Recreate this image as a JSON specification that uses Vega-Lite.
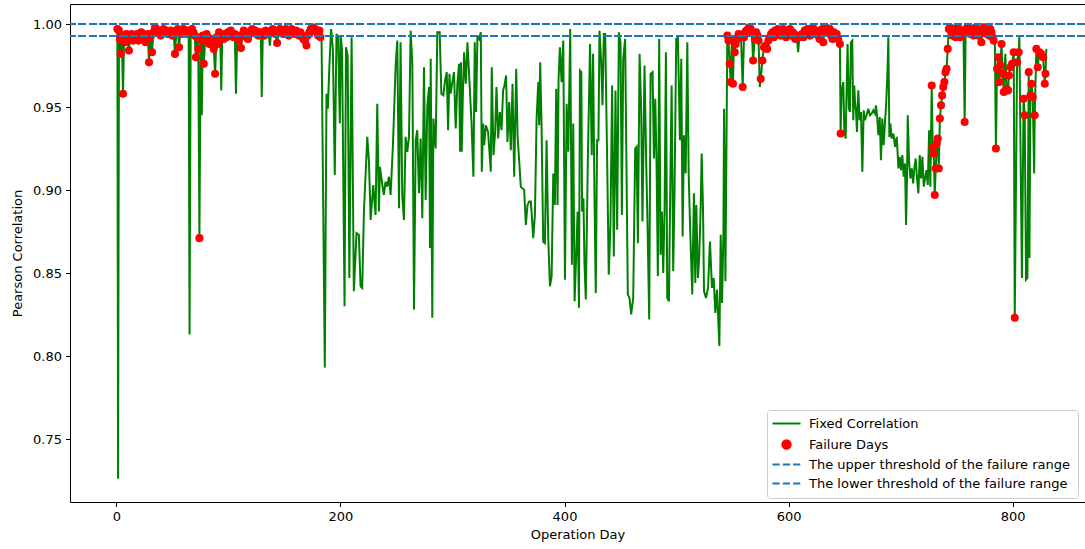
{
"$schema": "https://vega.github.io/schema/vega-lite/v6.json",
"width": 1015, "height": 498,
"autosize": {"type": "none"},
"padding": {"left": 70, "top": 4, "right": 0, "bottom": 47},
"background": "white",
"config": {
 "font": "DejaVu Sans",
 "view": {"stroke": null},
 "axis": {"labelFontSize": 13, "titleFontSize": 13, "labelColor": "#000", "titleColor": "#000", "titleFontWeight": "normal", "domainColor": "#000", "tickColor": "#000", "tickSize": 4.5, "labelPadding": 4, "grid": false, "domainWidth": 1, "tickWidth": 1}
},
"data": {"values": [
{"d":1,"v":0.997,"f":1},{"d":1.6,"v":0.726},{"d":2.4,"v":0.996,"f":1},{"d":3.2,"v":0.991,"f":1},{"d":3.9,"v":0.982,"f":1},{"d":5,"v":0.990,"f":1},{"d":6,"v":0.958,"f":1},{"d":7,"v":0.993,"f":1},{"d":8,"v":0.989,"f":1},{"d":9,"v":0.994,"f":1},{"d":10,"v":0.991,"f":1},{"d":11.3,"v":0.984,"f":1},{"d":12.4,"v":0.992,"f":1},{"d":13.7,"v":0.994,"f":1},{"d":15,"v":0.990,"f":1},{"d":16.2,"v":0.993,"f":1},{"d":17.5,"v":0.991,"f":1},{"d":18.6,"v":0.994,"f":1},{"d":19.7,"v":0.990,"f":1},{"d":21,"v":0.993,"f":1},{"d":22.2,"v":0.995,"f":1},{"d":23.5,"v":0.992,"f":1},{"d":24.8,"v":0.994,"f":1},{"d":26,"v":0.989,"f":1},{"d":27.1,"v":0.991,"f":1},{"d":28.2,"v":0.994,"f":1},{"d":29.2,"v":0.977,"f":1},{"d":30.5,"v":0.992,"f":1},{"d":31.9,"v":0.983,"f":1},{"d":33.2,"v":0.995,"f":1},{"d":34.6,"v":0.998,"f":1},{"d":35.8,"v":0.997,"f":1},{"d":37,"v":0.996,"f":1},{"d":38.4,"v":0.995,"f":1},{"d":39.6,"v":0.993,"f":1},{"d":40.9,"v":0.996,"f":1},{"d":42.1,"v":0.997,"f":1},{"d":43.4,"v":0.995,"f":1},{"d":44.7,"v":0.996,"f":1},{"d":46,"v":0.994,"f":1},{"d":47.3,"v":0.994,"f":1},{"d":48.6,"v":0.996,"f":1},{"d":50,"v":0.993,"f":1},{"d":51.2,"v":0.995,"f":1},{"d":52.4,"v":0.982,"f":1},{"d":53.6,"v":0.995,"f":1},{"d":54.8,"v":0.997,"f":1},{"d":56,"v":0.986,"f":1},{"d":57.3,"v":0.996,"f":1},{"d":58.6,"v":0.994,"f":1},{"d":59.8,"v":0.997,"f":1},{"d":61.1,"v":0.996,"f":1},{"d":62.4,"v":0.994,"f":1},{"d":63.7,"v":0.996,"f":1},{"d":64.6,"v":0.995,"f":1},{"d":65.4,"v":0.813},{"d":66.4,"v":0.995,"f":1},{"d":67.6,"v":0.997,"f":1},{"d":68.8,"v":0.995,"f":1},{"d":70,"v":0.993,"f":1},{"d":71,"v":0.980,"f":1},{"d":72.1,"v":0.992,"f":1},{"d":73.2,"v":0.985,"f":1},{"d":74.2,"v":0.871,"f":1},{"d":75.3,"v":0.990,"f":1},{"d":76.3,"v":0.945},{"d":77.2,"v":0.993,"f":1},{"d":78.1,"v":0.976,"f":1},{"d":79.3,"v":0.990,"f":1},{"d":80.6,"v":0.994,"f":1},{"d":81.9,"v":0.992,"f":1},{"d":83.1,"v":0.988,"f":1},{"d":84.4,"v":0.991,"f":1},{"d":85.7,"v":0.989,"f":1},{"d":87,"v":0.985,"f":1},{"d":88.2,"v":0.970,"f":1},{"d":89.4,"v":0.992,"f":1},{"d":90.6,"v":0.988,"f":1},{"d":91.7,"v":0.995,"f":1},{"d":92.8,"v":0.993,"f":1},{"d":93.7,"v":0.960},{"d":94.6,"v":0.993,"f":1},
{"d":95.8,"v":0.991,"f":1},{"d":97,"v":0.994,"f":1},{"d":98.3,"v":0.992,"f":1},{"d":99.6,"v":0.995,"f":1},{"d":100.9,"v":0.993,"f":1},{"d":102.2,"v":0.996,"f":1},{"d":103.5,"v":0.994,"f":1},{"d":104.8,"v":0.992,"f":1},{"d":105.8,"v":0.994,"f":1},{"d":106.8,"v":0.958},{"d":107.9,"v":0.992,"f":1},{"d":109.2,"v":0.990,"f":1},{"d":110.3,"v":0.993,"f":1},{"d":111.3,"v":0.9855,"f":1},{"d":112.5,"v":0.993,"f":1},{"d":113.7,"v":0.996,"f":1},{"d":115,"v":0.994,"f":1},{"d":116.3,"v":0.992,"f":1},{"d":117.6,"v":0.991,"f":1},{"d":118.9,"v":0.994,"f":1},{"d":120.2,"v":0.996,"f":1},{"d":121.5,"v":0.997,"f":1},{"d":122.8,"v":0.995,"f":1},{"d":124.1,"v":0.996,"f":1},{"d":125.4,"v":0.994,"f":1},{"d":126.7,"v":0.993,"f":1},{"d":128,"v":0.995,"f":1},{"d":129,"v":0.994,"f":1},{"d":129.8,"v":0.956},{"d":130.8,"v":0.995,"f":1},{"d":132.1,"v":0.993,"f":1},{"d":133.4,"v":0.996,"f":1},{"d":134.7,"v":0.994,"f":1},{"d":136,"v":0.995,"f":1},{"d":137,"v":0.987},{"d":138.2,"v":0.995,"f":1},{"d":139.5,"v":0.997,"f":1},{"d":140.8,"v":0.996,"f":1},{"d":142.1,"v":0.994,"f":1},{"d":143.5,"v":0.9885,"f":1},{"d":144.8,"v":0.995,"f":1},{"d":146.1,"v":0.997,"f":1},{"d":147.4,"v":0.996,"f":1},{"d":148.7,"v":0.994,"f":1},{"d":150,"v":0.995,"f":1},{"d":151.3,"v":0.997,"f":1},{"d":152.6,"v":0.996,"f":1},{"d":153.9,"v":0.993,"f":1},{"d":155.2,"v":0.995,"f":1},{"d":156.5,"v":0.997,"f":1},{"d":157.8,"v":0.996,"f":1},{"d":159.1,"v":0.994,"f":1},{"d":160.4,"v":0.996,"f":1},{"d":161.7,"v":0.994,"f":1},{"d":163,"v":0.993,"f":1},{"d":164.3,"v":0.995,"f":1},{"d":165.6,"v":0.993,"f":1},{"d":166.9,"v":0.991,"f":1},{"d":168.3,"v":0.990,"f":1},{"d":169.7,"v":0.987,"f":1},{"d":171,"v":0.993,"f":1},{"d":172.3,"v":0.995,"f":1},{"d":173.6,"v":0.997,"f":1},{"d":174.9,"v":0.998,"f":1},{"d":176.2,"v":0.996,"f":1},{"d":177.5,"v":0.997,"f":1},{"d":178.8,"v":0.995,"f":1},{"d":180.1,"v":0.993,"f":1},{"d":181.2,"v":0.996,"f":1},{"d":182.2,"v":0.992,"f":1},{"d":183.1,"v":0.997},{"d":186.1,"v":0.793},{"d":187.6,"v":0.958},{"d":188.8,"v":0.949},{"d":190.2,"v":0.975},{"d":191.7,"v":0.997},{"d":193.3,"v":0.985},{"d":195,"v":0.909},{"d":196.5,"v":0.994},{"d":198,"v":0.992},{"d":199.5,"v":0.940},
{"d":200.3,"v":0.993},{"d":201.5,"v":0.984},{"d":203.7,"v":0.830},{"d":205,"v":0.986},{"d":206.5,"v":0.981},{"d":208,"v":0.847},{"d":210,"v":0.992},{"d":212,"v":0.839},{"d":214.4,"v":0.874},{"d":216.5,"v":0.873},{"d":218,"v":0.842},{"d":219.5,"v":0.841},{"d":221,"v":0.887},{"d":224,"v":0.932},{"d":225.5,"v":0.917},{"d":227,"v":0.882},{"d":229.3,"v":0.903},{"d":231.4,"v":0.885},{"d":232.9,"v":0.952},{"d":234.4,"v":0.887},{"d":235.3,"v":0.914},{"d":237.4,"v":0.903},{"d":238.8,"v":0.897},{"d":240.3,"v":0.905},{"d":241.8,"v":0.902},{"d":243.3,"v":0.908},{"d":244.8,"v":0.897},{"d":246.9,"v":0.927},{"d":249.3,"v":0.975},{"d":250.8,"v":0.990},{"d":252.3,"v":0.889},{"d":253.7,"v":0.989},{"d":255.2,"v":0.897},{"d":256.7,"v":0.882},{"d":258.2,"v":0.932},{"d":259.7,"v":0.923},{"d":261.2,"v":0.932},{"d":262.7,"v":0.996},{"d":264.2,"v":0.976},{"d":265.7,"v":0.828},{"d":267.2,"v":0.930},{"d":268.6,"v":0.936},{"d":270.1,"v":0.898},{"d":271.6,"v":0.931},{"d":273.1,"v":0.883},{"d":274.6,"v":0.974},{"d":276.1,"v":0.894},{"d":277.6,"v":0.951},{"d":279.1,"v":0.962},{"d":280,"v":0.865},{"d":280.6,"v":0.979},{"d":282,"v":0.823},{"d":283,"v":0.943},{"d":285,"v":0.925},{"d":286.5,"v":0.995},{"d":288.6,"v":0.995},{"d":290.1,"v":0.958},{"d":291.9,"v":0.957},{"d":293.4,"v":0.966},{"d":294.9,"v":0.971},{"d":296.1,"v":0.936},{"d":297.3,"v":0.970},{"d":298.4,"v":0.958},{"d":299.9,"v":0.965},{"d":301.4,"v":0.971},{"d":302.9,"v":0.937},{"d":304.4,"v":0.964},{"d":305.9,"v":0.976},{"d":306.8,"v":0.923},
{"d":307.6,"v":0.977},{"d":308.3,"v":0.923},{"d":309.2,"v":0.955},{"d":310.4,"v":0.983},{"d":311.9,"v":0.964},{"d":313.4,"v":0.989},{"d":314.9,"v":0.969},{"d":317,"v":0.941},{"d":318.7,"v":0.908},{"d":319.9,"v":0.989},{"d":321.1,"v":0.947},{"d":322.3,"v":0.993},{"d":323.8,"v":0.991},{"d":325.3,"v":0.995},{"d":326.2,"v":0.911},{"d":327.4,"v":0.940},{"d":328.3,"v":0.927},{"d":329.8,"v":0.939},{"d":331.8,"v":0.935},{"d":334.2,"v":0.911},{"d":335.1,"v":0.974},{"d":336.6,"v":0.921},{"d":338.1,"v":0.935},{"d":339.3,"v":0.962},{"d":340.8,"v":0.931},{"d":342.3,"v":0.947},{"d":343.8,"v":0.936},{"d":345.2,"v":0.960},{"d":346.4,"v":0.963},{"d":347.9,"v":0.969},{"d":349.1,"v":0.929},{"d":350.6,"v":0.953},{"d":352.1,"v":0.924},{"d":353.6,"v":0.964},{"d":355.1,"v":0.908},{"d":356.9,"v":0.973},{"d":358.1,"v":0.933},{"d":359.6,"v":0.917},{"d":361,"v":0.902},{"d":362.5,"v":0.901},{"d":364,"v":0.900},{"d":365.5,"v":0.879},{"d":367,"v":0.891},{"d":368.5,"v":0.893},{"d":370,"v":0.893},{"d":372.1,"v":0.871},{"d":373.6,"v":0.885},{"d":375.1,"v":0.943},{"d":376.6,"v":0.965},{"d":377.4,"v":0.939},{"d":378.3,"v":0.977},{"d":379.5,"v":0.939},{"d":381,"v":0.869},{"d":382.5,"v":0.868},{"d":384,"v":0.930},{"d":385.5,"v":0.871},{"d":387,"v":0.842},{"d":388.5,"v":0.848},{"d":390,"v":0.910},{"d":391.4,"v":0.891},{"d":392.6,"v":0.961},{"d":393.8,"v":0.891},{"d":394.7,"v":0.967},{"d":395.9,"v":0.986},{"d":397.4,"v":0.965},{"d":398.9,"v":0.990},{"d":400.4,"v":0.846},{"d":401.9,"v":0.952},{"d":403.4,"v":0.923},{"d":405.1,"v":0.997},{"d":406.6,"v":0.855},{"d":407.8,"v":0.940},{"d":409,"v":0.833},{"d":410.2,"v":0.856},{"d":411.7,"v":0.887},{"d":412.9,"v":0.829},{"d":413.8,"v":0.972},
{"d":415,"v":0.971},{"d":415.7,"v":0.887},{"d":416.9,"v":0.895},{"d":417.8,"v":0.857},{"d":419,"v":0.834},{"d":420.8,"v":0.917},{"d":422.8,"v":0.988},{"d":424.3,"v":0.921},{"d":425.5,"v":0.982},{"d":426.7,"v":0.900},{"d":427.9,"v":0.838},{"d":429.1,"v":0.930},{"d":430.3,"v":0.930},{"d":431.2,"v":0.996},{"d":432.7,"v":0.978},{"d":433.9,"v":0.951},{"d":435.1,"v":0.994},{"d":436.3,"v":0.994},{"d":438,"v":0.921},{"d":439.5,"v":0.849},{"d":441,"v":0.879},{"d":442.5,"v":0.963},{"d":444,"v":0.860},{"d":445.5,"v":0.960},{"d":447,"v":0.876},{"d":448.5,"v":0.995},{"d":450,"v":0.989},{"d":451.2,"v":0.885},{"d":452.4,"v":0.979},{"d":454.1,"v":0.991},{"d":456.5,"v":0.837},{"d":458,"v":0.835},{"d":459.5,"v":0.825},{"d":461.3,"v":0.835},{"d":463.1,"v":0.925},{"d":464.3,"v":0.926},{"d":465.5,"v":0.868},{"d":467,"v":0.982},{"d":468.4,"v":0.949},{"d":469.6,"v":0.881},{"d":471.4,"v":0.975},{"d":472.9,"v":0.917},{"d":474.1,"v":0.879},{"d":475.6,"v":0.822},{"d":476.8,"v":0.970},{"d":478.6,"v":0.971},{"d":479.8,"v":0.919},{"d":481,"v":0.955},{"d":482.2,"v":0.914},{"d":483.3,"v":0.848},{"d":484.5,"v":0.991},{"d":485.7,"v":0.861},{"d":486.9,"v":0.887},{"d":488.1,"v":0.850},{"d":489.3,"v":0.888},{"d":490.5,"v":0.983},{"d":491.7,"v":0.835},{"d":493.2,"v":0.833},{"d":494.4,"v":0.902},{"d":495.6,"v":0.963},{"d":497,"v":0.851},{"d":498.2,"v":0.899},{"d":499.7,"v":0.991},{"d":501.2,"v":0.992},{"d":503,"v":0.930},{"d":504.2,"v":0.979},{"d":505.4,"v":0.872},{"d":506.6,"v":0.933},{"d":508.1,"v":0.910},{"d":509.6,"v":0.989},{"d":510.8,"v":0.910},{"d":512.2,"v":0.875},{"d":514,"v":0.837},{"d":515.5,"v":0.898},{"d":516.7,"v":0.844},{"d":517.6,"v":0.891},{"d":519.1,"v":0.847},{"d":520.3,"v":0.861},{"d":521.5,"v":0.889},
{"d":522.4,"v":0.922},{"d":523.6,"v":0.889},{"d":524.5,"v":0.839},{"d":526.3,"v":0.835},{"d":528.1,"v":0.841},{"d":529.8,"v":0.869},{"d":531.6,"v":0.841},{"d":533.1,"v":0.847},{"d":534.6,"v":0.826},{"d":536.1,"v":0.840},{"d":538.2,"v":0.806},{"d":539.4,"v":0.873},{"d":540.6,"v":0.832},{"d":541.8,"v":0.873},{"d":542.4,"v":0.949},{"d":543.6,"v":0.845},{"d":545.3,"v":0.993,"f":1},{"d":546.3,"v":0.990,"f":1},{"d":547.4,"v":0.976,"f":1},{"d":548.3,"v":0.965,"f":1},{"d":549.3,"v":0.990,"f":1},{"d":550.4,"v":0.964,"f":1},{"d":551.2,"v":0.990,"f":1},{"d":551.9,"v":0.983,"f":1},{"d":552.8,"v":0.988,"f":1},{"d":554.3,"v":0.991,"f":1},{"d":555.3,"v":0.994,"f":1},{"d":556.4,"v":0.992,"f":1},{"d":557.5,"v":0.993,"f":1},{"d":559,"v":0.962,"f":1},{"d":560.2,"v":0.992,"f":1},{"d":561.2,"v":0.995,"f":1},{"d":562.3,"v":0.996,"f":1},{"d":563.8,"v":0.997,"f":1},{"d":565,"v":0.998,"f":1},{"d":566.2,"v":0.997,"f":1},{"d":567.2,"v":0.995,"f":1},{"d":568.3,"v":0.978,"f":1},{"d":569.8,"v":0.991,"f":1},{"d":571,"v":0.995,"f":1},{"d":572.2,"v":0.993,"f":1},{"d":573.2,"v":0.990,"f":1},{"d":574.3,"v":0.962},{"d":575.1,"v":0.967,"f":1},{"d":576.6,"v":0.978,"f":1},{"d":578,"v":0.986,"f":1},{"d":579.5,"v":0.987,"f":1},{"d":580.8,"v":0.985,"f":1},{"d":582,"v":0.990,"f":1},{"d":583.2,"v":0.992,"f":1},{"d":584.4,"v":0.994,"f":1},{"d":585.6,"v":0.995,"f":1},{"d":586.8,"v":0.992,"f":1},{"d":588,"v":0.996,"f":1},{"d":589.2,"v":0.994,"f":1},{"d":590.4,"v":0.997,"f":1},{"d":591.6,"v":0.995,"f":1},{"d":592.8,"v":0.993,"f":1},{"d":594,"v":0.995,"f":1},{"d":595.2,"v":0.997,"f":1},{"d":596.4,"v":0.994,"f":1},{"d":597.6,"v":0.992,"f":1},{"d":598.8,"v":0.996,"f":1},{"d":600,"v":0.995,"f":1},{"d":601.2,"v":0.997,"f":1},{"d":602.4,"v":0.993,"f":1},{"d":603.6,"v":0.995,"f":1},{"d":604.8,"v":0.994,"f":1},{"d":606,"v":0.991,"f":1},{"d":607.2,"v":0.993,"f":1},{"d":608.5,"v":0.983},{"d":609.6,"v":0.992,"f":1},{"d":610.8,"v":0.993,"f":1},{"d":612,"v":0.994,"f":1},{"d":613.2,"v":0.992,"f":1},{"d":614.4,"v":0.996,"f":1},{"d":615.6,"v":0.995,"f":1},{"d":616.8,"v":0.997,"f":1},{"d":618,"v":0.995,"f":1},{"d":619.2,"v":0.993,"f":1},{"d":620.4,"v":0.997,"f":1},{"d":621.6,"v":0.998,"f":1},{"d":622.8,"v":0.996,"f":1},{"d":624,"v":0.994,"f":1},{"d":625.2,"v":0.996,"f":1},{"d":626.4,"v":0.993,"f":1},{"d":627.6,"v":0.991,"f":1},{"d":628.8,"v":0.994,"f":1},{"d":630,"v":0.997,"f":1},{"d":630.9,"v":0.989,"f":1},{"d":632,"v":0.996,"f":1},{"d":633.2,"v":0.998,"f":1},{"d":634.4,"v":0.997,"f":1},{"d":635.6,"v":0.995,"f":1},{"d":636.8,"v":0.997,"f":1},{"d":638,"v":0.993,"f":1},{"d":639.2,"v":0.991,"f":1},{"d":640.4,"v":0.995,"f":1},{"d":641.6,"v":0.992,"f":1},{"d":642.8,"v":0.994,"f":1},{"d":644.3,"v":0.991,"f":1},{"d":645.8,"v":0.988,"f":1},{"d":646.4,"v":0.934,"f":1},
{"d":647.3,"v":0.960},{"d":648.8,"v":0.965},{"d":649.7,"v":0.936},{"d":650.9,"v":0.931},{"d":652.6,"v":0.988},{"d":653.8,"v":0.949},{"d":654.7,"v":0.947},{"d":655.6,"v":0.989},{"d":656.8,"v":0.990},{"d":657.7,"v":0.942},{"d":658.6,"v":0.963},{"d":659.2,"v":0.954},{"d":660.1,"v":0.948},{"d":661,"v":0.935},{"d":662.2,"v":0.960},{"d":663.4,"v":0.942},{"d":664.6,"v":0.947},{"d":665.8,"v":0.911},{"d":667,"v":0.948},{"d":668.1,"v":0.942},{"d":669.6,"v":0.945},{"d":671.1,"v":0.949},{"d":672.6,"v":0.945},{"d":674.1,"v":0.946},{"d":675.6,"v":0.948},{"d":677.1,"v":0.946},{"d":678,"v":0.951},{"d":678.9,"v":0.945},{"d":680.1,"v":0.933},{"d":681.3,"v":0.944},{"d":682.4,"v":0.918},{"d":683.6,"v":0.943},{"d":684.8,"v":0.927},{"d":686,"v":0.941},{"d":686.9,"v":0.950},{"d":688.1,"v":0.969},{"d":689,"v":0.992},{"d":689.9,"v":0.932},{"d":690.8,"v":0.940},{"d":692,"v":0.931},{"d":693.5,"v":0.934},{"d":695,"v":0.926},{"d":696.5,"v":0.932},{"d":698,"v":0.913},{"d":699.1,"v":0.920},{"d":700.3,"v":0.912},{"d":701.5,"v":0.921},{"d":702.7,"v":0.908},{"d":703.9,"v":0.916},{"d":704.8,"v":0.879},{"d":705.7,"v":0.909},{"d":706.3,"v":0.945},{"d":707.5,"v":0.917},{"d":708.7,"v":0.907},{"d":709.9,"v":0.913},{"d":711.1,"v":0.904},{"d":712.2,"v":0.913},{"d":713.4,"v":0.919},{"d":714.6,"v":0.907},{"d":715.8,"v":0.898},{"d":717,"v":0.921},{"d":718.2,"v":0.907},{"d":719.4,"v":0.920},{"d":720.6,"v":0.902},{"d":721.8,"v":0.907},{"d":723,"v":0.912},{"d":724.2,"v":0.903},{"d":725.4,"v":0.936},{"d":726.5,"v":0.902},
{"d":727.7,"v":0.963,"f":1},{"d":728.6,"v":0.926,"f":1},{"d":729.5,"v":0.922,"f":1},{"d":730.4,"v":0.897,"f":1},{"d":731.3,"v":0.913,"f":1},{"d":732.2,"v":0.928,"f":1},{"d":733.1,"v":0.931,"f":1},{"d":734,"v":0.913,"f":1},{"d":735,"v":0.943,"f":1},{"d":736,"v":0.951,"f":1},{"d":737,"v":0.957,"f":1},{"d":738,"v":0.962,"f":1},{"d":739,"v":0.965,"f":1},{"d":740,"v":0.971,"f":1},{"d":741,"v":0.973,"f":1},{"d":742,"v":0.985,"f":1},{"d":743,"v":0.997,"f":1},{"d":744,"v":0.998,"f":1},{"d":745,"v":0.996,"f":1},{"d":746,"v":0.993,"f":1},{"d":747,"v":0.997,"f":1},{"d":748,"v":0.995,"f":1},{"d":749,"v":0.992,"f":1},{"d":750,"v":0.996,"f":1},{"d":751,"v":0.998,"f":1},{"d":752,"v":0.994,"f":1},{"d":753,"v":0.992,"f":1},{"d":754,"v":0.995,"f":1},{"d":755,"v":0.993,"f":1},{"d":756,"v":0.996,"f":1},{"d":757.1,"v":0.941,"f":1},{"d":758,"v":0.997,"f":1},{"d":759,"v":0.995,"f":1},{"d":760,"v":0.998,"f":1},{"d":761,"v":0.996,"f":1},{"d":762,"v":0.994,"f":1},{"d":763,"v":0.997,"f":1},{"d":764,"v":0.995,"f":1},{"d":765,"v":0.993,"f":1},{"d":766,"v":0.996,"f":1},{"d":767,"v":0.998,"f":1},{"d":768,"v":0.995,"f":1},{"d":769,"v":0.993,"f":1},{"d":770,"v":0.996,"f":1},{"d":771,"v":0.994,"f":1},{"d":772,"v":0.989,"f":1},{"d":773,"v":0.996,"f":1},{"d":774,"v":0.998,"f":1},{"d":775,"v":0.995,"f":1},{"d":776,"v":0.997,"f":1},{"d":777,"v":0.994,"f":1},{"d":778,"v":0.996,"f":1},{"d":779,"v":0.993,"f":1},{"d":780,"v":0.997,"f":1},{"d":781,"v":0.995,"f":1},{"d":782,"v":0.992,"f":1},{"d":783,"v":0.990,"f":1},{"d":784,"v":0.993},{"d":785,"v":0.925,"f":1},{"d":786,"v":0.973,"f":1},{"d":787,"v":0.980,"f":1},{"d":788,"v":0.965,"f":1},{"d":789,"v":0.975,"f":1},{"d":790,"v":0.988,"f":1},{"d":791,"v":0.970,"f":1},{"d":792,"v":0.959,"f":1},{"d":793.4,"v":0.982},{"d":794.5,"v":0.961,"f":1},{"d":795.8,"v":0.960,"f":1},{"d":796.6,"v":0.969,"f":1},{"d":797.9,"v":0.974,"f":1},{"d":799.4,"v":0.976,"f":1},{"d":800.9,"v":0.983,"f":1},{"d":801.8,"v":0.823,"f":1},{"d":803.9,"v":0.977,"f":1},{"d":805.3,"v":0.983,"f":1},{"d":805.9,"v":0.993},{"d":808.2,"v":0.847},{"d":809.7,"v":0.955,"f":1},{"d":810.7,"v":0.945,"f":1},{"d":811.9,"v":0.846},{"d":813.1,"v":0.847},{"d":814.3,"v":0.971,"f":1},{"d":814.9,"v":0.859},{"d":815.8,"v":0.957,"f":1},{"d":816.7,"v":0.964,"f":1},{"d":817.9,"v":0.956,"f":1},{"d":819.1,"v":0.910},{"d":819.6,"v":0.945,"f":1},{"d":821.1,"v":0.985,"f":1},{"d":822.3,"v":0.974,"f":1},{"d":823.8,"v":0.983,"f":1},{"d":825.3,"v":0.982,"f":1},{"d":827.1,"v":0.980,"f":1},{"d":828.6,"v":0.964,"f":1},{"d":829.2,"v":0.970,"f":1},{"d":830,"v":0.985}
]},
"layer": [
 {"mark": {"type": "line", "strokeWidth": 2},
  "encoding": {
   "x": {"field": "d", "type": "quantitative", "scale": {"domain": [-41.3, 864.5], "nice": false, "zero": false}, "axis": {"values": [0, 200, 400, 600, 800], "title": "Operation Day", "titlePadding": 5}},
   "y": {"field": "v", "type": "quantitative", "scale": {"domain": [0.71205, 1.01205], "nice": false, "zero": false}, "axis": {"values": [0.75, 0.8, 0.85, 0.9, 0.95, 1.0], "format": ".2f", "title": "Pearson Correlation", "titlePadding": 8}},
   "color": {"datum": "Fixed Correlation", "type": "nominal",
    "scale": {"domain": ["Fixed Correlation", "Failure Days", "The upper threshold of the failure range", "The lower threshold of the failure range"], "range": ["#008000", "#ff0000", "#1f77b4", "#1f77b4"]},
    "legend": {"title": null, "orient": "none", "legendX": 697, "legendY": 406, "labelFontSize": 13, "labelColor": "#000", "labelFont": "DejaVu Sans", "fillColor": "white", "strokeColor": "#cccccc", "cornerRadius": 3, "padding": 7, "rowPadding": 5, "symbolSize": 100, "symbolOffset": 6, "labelOffset": 16, "labelLimit": 400,
     "encode": {"symbols": {"update": {
       "shape": {"signal": "datum.value === 'Failure Days' ? 'circle' : 'M-2.8,0L2.8,0'"},
       "size": {"signal": "datum.value === 'Failure Days' ? 70 : 100"},
       "fill": {"signal": "datum.value === 'Failure Days' ? '#ff0000' : 'transparent'"},
       "stroke": {"signal": "datum.value === 'Fixed Correlation' ? '#008000' : (datum.value === 'Failure Days' ? 'transparent' : '#1f77b4')"},
       "strokeWidth": {"value": 2},
       "strokeDash": {"signal": "(datum.value === 'Fixed Correlation' || datum.value === 'Failure Days') ? [] : [7.2, 3.1]"},
       "opacity": {"value": 1}
     }}}}
   }
  }},
 {"transform": [{"filter": "datum.f == 1"}],
  "mark": {"type": "point", "filled": true, "size": 65, "opacity": 1},
  "encoding": {
   "x": {"field": "d", "type": "quantitative", "axis": {"orient": "top", "labels": false, "ticks": false, "title": null, "domain": true}},
   "y": {"field": "v", "type": "quantitative", "title": "Pearson Correlation"},
   "color": {"datum": "Failure Days", "type": "nominal"}
  }},
 {"mark": {"type": "rule", "strokeWidth": 2, "strokeDash": [7.2, 3.1]},
  "encoding": {"y": {"datum": 1.0, "type": "quantitative"}, "color": {"datum": "The upper threshold of the failure range", "type": "nominal"}}},
 {"mark": {"type": "rule", "strokeWidth": 2, "strokeDash": [7.2, 3.1]},
  "encoding": {"y": {"datum": 0.9928, "type": "quantitative"}, "color": {"datum": "The lower threshold of the failure range", "type": "nominal"}}}
],
"resolve": {"axis": {"x": "independent"}}
}
